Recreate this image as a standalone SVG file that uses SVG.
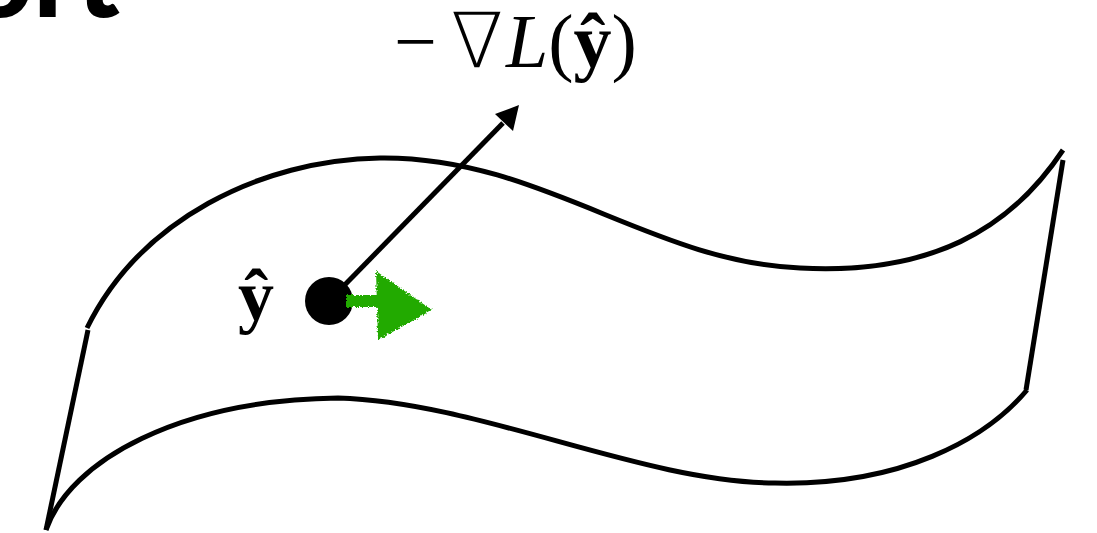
<svg xmlns="http://www.w3.org/2000/svg" width="1097" height="533" viewBox="0 0 1097 533">
<defs>
<style>
.edge{fill:none;stroke:#000;stroke-width:5;stroke-linecap:butt;stroke-linejoin:miter}
.lab{font-family:"Liberation Serif","Times New Roman",serif;fill:#000}
</style>
<filter id="rough" x="-20%" y="-20%" width="140%" height="140%">
<feTurbulence type="fractalNoise" baseFrequency="0.6" numOctaves="2" seed="3" result="n"/>
<feDisplacementMap in="SourceGraphic" in2="n" scale="5" xChannelSelector="R" yChannelSelector="G"/>
</filter>
</defs>
<rect width="1097" height="533" fill="#fff"/>
<text x="120" y="17" text-anchor="end" font-family="Lato,sans-serif" font-weight="900" font-size="115" fill="#000">ort</text>
<g id="manifold">
<path class="edge" d="M87 328 C140 220, 260 160, 380 158 C540 156, 650 262, 800 268 C930 275, 1010 230, 1063 150"/>
<path class="edge" d="M46 530 C70 460, 180 400, 338 398 C480 402, 640 482, 775 483 C900 486, 985 440, 1027 390"/>
<line class="edge" x1="88" y1="330" x2="46" y2="530"/>
<line class="edge" x1="1063" y1="160" x2="1026" y2="390"/>
</g>
<g id="connectors">
<line x1="329" y1="301" x2="503" y2="123" stroke="#000" stroke-width="5"/>
<path d="M519 105 L513 131 L495 114 Z" fill="#000"/>
</g>
<g id="point">
<circle cx="329" cy="301" r="24" fill="#000"/>
<text class="lab" x="238" y="320" font-size="72" font-weight="bold">ŷ</text>
</g>
<g id="green-arrow" filter="url(#rough)" fill="#22aa00">
<rect x="346" y="295" width="34" height="12"/>
<path d="M376 271 L432 310 L378 340 Z"/>
</g>
<g id="gradient-label">
<text class="lab" x="394" y="67" font-size="76"><tspan>−</tspan><tspan dx="14" font-family="'DejaVu Sans',sans-serif" font-weight="200" font-size="76">∇</tspan><tspan dx="3" font-style="italic">L</tspan><tspan>(</tspan><tspan font-weight="bold">ŷ</tspan><tspan>)</tspan></text>
</g>
</svg>
